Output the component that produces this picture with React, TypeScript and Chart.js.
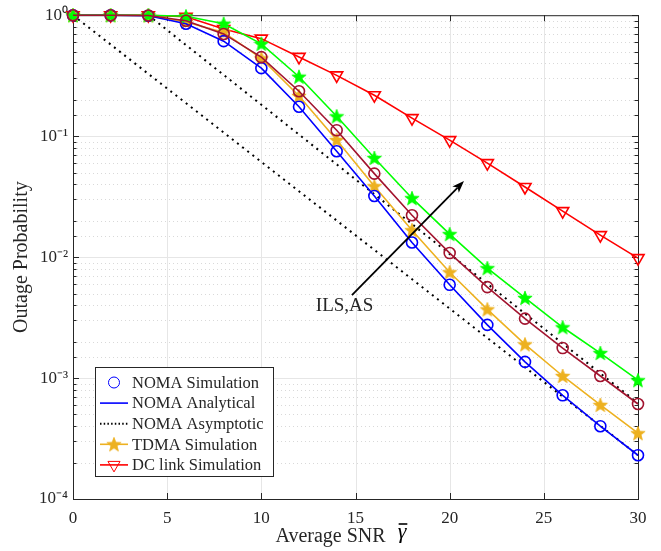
import React, { useEffect, useRef } from 'react';
import { Chart, registerables } from 'chart.js';
import { drawPoint } from 'chart.js/helpers';

Chart.register(...registerables);

// ---------- data ----------
const snr = [0, 2, 4, 6, 8, 10, 12, 14, 16, 18, 20, 22, 24, 26, 28, 30];
const nomaSimulation = [1, 1, 0.99, 0.85, 0.61, 0.365, 0.175, 0.075, 0.032, 0.0132, 0.0059, 0.00275, 0.00136, 0.00072, 0.0004, 0.00023];
const nomaAnalytical = [1, 1, 0.99, 0.85, 0.61, 0.365, 0.175, 0.075, 0.032, 0.0132, 0.0059, 0.00275, 0.00136, 0.00072, 0.0004, 0.00023];
const tdmaSimulation = [1, 1, 0.995, 0.88, 0.72, 0.44, 0.215, 0.093, 0.0386, 0.0167, 0.0075, 0.0037, 0.0019, 0.00104, 0.0006, 0.00035];
const dcLinkSimulation = [1, 1, 1, 0.97, 0.77, 0.64, 0.452, 0.318, 0.218, 0.141, 0.0927, 0.0598, 0.038, 0.024, 0.0152, 0.0098];
const ilsSeriesA = [1, 1, 0.995, 0.9, 0.7, 0.45, 0.235, 0.112, 0.049, 0.0222, 0.0108, 0.00565, 0.0031, 0.00177, 0.00104, 0.00061];
const ilsSeriesB = [1, 1, 1, 0.98, 0.85, 0.58, 0.31, 0.146, 0.066, 0.0307, 0.0155, 0.0081, 0.0046, 0.00263, 0.00161, 0.00096];
const asymptoteA_snr = [0, 30];
const asymptoteA_values = [1, 0.00023];
const asymptoteB_snr = [4, 30];
const asymptoteB_values = [1, 0.00062];

const xTicks = [0, 5, 10, 15, 20, 25, 30];
const legendLabels = ['NOMA Simulation', 'NOMA Analytical', 'NOMA Asymptotic', 'TDMA Simulation', 'DC link Simulation'];
const xTitle = 'Average SNR';
const yTitle = 'Outage Probability';
const annotationText = 'ILS,AS';
// annotation anchors in data units
const arrowTail = { x: 14.81, y: 0.00485 };
const arrowTip = { x: 20.76, y: 0.0425 };
const annotationAnchor = { x: 14.42, y: 0.00358 };

const SERIF = '"Liberation Serif", "Times New Roman", serif';
const TEXT = '#262626';
const BLUE = '#0000ff';
const ORANGE = '#edb120';
const RED = '#ff0000';
const MAROON = '#a2142f';
const GREEN = '#00ff00';

const SUP: Record<string, string> = { '-': '\u207B', '0': '\u2070', '1': '\u00B9', '2': '\u00B2', '3': '\u00B3', '4': '\u2074', '5': '\u2075' };
const toSup = (s: string) => s.split('').map((c) => SUP[c] || c).join('');

function makeStar(color: string, r: number) {
  const c = document.createElement('canvas');
  const s = Math.ceil(r * 2 + 3);
  c.width = s;
  c.height = s;
  const g = c.getContext('2d')!;
  g.beginPath();
  for (let i = 0; i < 10; i++) {
    const rad = i % 2 === 0 ? r : r * 0.42;
    const a = -Math.PI / 2 + (i * Math.PI) / 5;
    const px = s / 2 + rad * Math.cos(a);
    const py = s / 2 + 0.6 + rad * Math.sin(a);
    if (i === 0) g.moveTo(px, py);
    else g.lineTo(px, py);
  }
  g.closePath();
  g.fillStyle = color;
  g.fill();
  g.strokeStyle = color;
  g.lineWidth = 0.8;
  g.stroke();
  return c;
}

const isPow10 = (v: number) => Math.abs(Math.log10(v) - Math.round(Math.log10(v))) < 1e-9;

const decorPlugin = {
  id: 'decor',
  beforeDatasetsDraw(chart: any) {
    const { ctx, chartArea: ca } = chart;
    const xs = chart.scales.x;
    const ys = chart.scales.y;
    ctx.save();
    ctx.lineWidth = 1;
    // y grid
    ys.ticks.forEach((t: any) => {
      const v = t.value;
      if (v <= ys.min || v >= ys.max) return;
      const py = Math.round(ys.getPixelForValue(v)) + 0.5;
      const major = isPow10(v);
      ctx.setLineDash(major ? [] : [1, 3]);
      ctx.strokeStyle = major ? '#e6e6e6' : '#d9d9d9';
      ctx.beginPath();
      ctx.moveTo(ca.left, py);
      ctx.lineTo(ca.right, py);
      ctx.stroke();
    });
    ctx.setLineDash([]);
    xs.ticks.forEach((t: any) => {
      const v = t.value;
      if (v <= xs.min || v >= xs.max) return;
      const px = Math.round(xs.getPixelForValue(v)) + 0.5;
      ctx.strokeStyle = '#e6e6e6';
      ctx.beginPath();
      ctx.moveTo(px, ca.top);
      ctx.lineTo(px, ca.bottom);
      ctx.stroke();
    });
    // box
    ctx.strokeStyle = TEXT;
    ctx.strokeRect(ca.left + 0.5, ca.top + 0.5, ca.right - ca.left, ca.bottom - ca.top);
    // ticks (inward)
    ys.ticks.forEach((t: any) => {
      const v = t.value;
      const py = Math.round(ys.getPixelForValue(v)) + 0.5;
      const len = isPow10(v) ? 6 : 3.5;
      ctx.beginPath();
      ctx.moveTo(ca.left, py);
      ctx.lineTo(ca.left + len, py);
      ctx.moveTo(ca.right, py);
      ctx.lineTo(ca.right - len, py);
      ctx.stroke();
    });
    xs.ticks.forEach((t: any) => {
      const px = Math.round(xs.getPixelForValue(t.value)) + 0.5;
      ctx.beginPath();
      ctx.moveTo(px, ca.bottom);
      ctx.lineTo(px, ca.bottom - 6);
      ctx.moveTo(px, ca.top);
      ctx.lineTo(px, ca.top + 6);
      ctx.stroke();
    });
    ctx.restore();
  },
  afterDraw(chart: any) {
    const { ctx, chartArea: ca } = chart;
    const xs = chart.scales.x;
    const ys = chart.scales.y;
    ctx.save();
    // annotation arrow
    const tx = xs.getPixelForValue(arrowTail.x);
    const ty = ys.getPixelForValue(arrowTail.y);
    const hx = xs.getPixelForValue(arrowTip.x);
    const hy = ys.getPixelForValue(arrowTip.y);
    const ang = Math.atan2(hy - ty, hx - tx);
    const headLen = 12;
    const headW = 4.5;
    const bx = hx - headLen * Math.cos(ang);
    const by = hy - headLen * Math.sin(ang);
    ctx.strokeStyle = '#000';
    ctx.fillStyle = '#000';
    ctx.lineWidth = 1.8;
    ctx.beginPath();
    ctx.moveTo(tx, ty);
    ctx.lineTo(bx + 3 * Math.cos(ang), by + 3 * Math.sin(ang));
    ctx.stroke();
    ctx.beginPath();
    ctx.moveTo(hx, hy);
    ctx.lineTo(bx - headW * Math.sin(ang), by + headW * Math.cos(ang));
    ctx.lineTo(bx + 3 * Math.cos(ang), by + 3 * Math.sin(ang));
    ctx.lineTo(bx + headW * Math.sin(ang), by - headW * Math.cos(ang));
    ctx.closePath();
    ctx.fill();
    ctx.font = `19px ${SERIF}`;
    ctx.fillStyle = TEXT;
    ctx.textAlign = 'center';
    ctx.textBaseline = 'alphabetic';
    ctx.fillText(annotationText, xs.getPixelForValue(annotationAnchor.x), ys.getPixelForValue(annotationAnchor.y));

    // x title with gamma-bar
    ctx.font = `20px ${SERIF}`;
    ctx.textAlign = 'left';
    const cx = (ca.left + ca.right) / 2;
    const startX = cx - 80;
    const baseY = 542;
    ctx.fillText(xTitle, startX, baseY);
    const w = ctx.measureText(xTitle).width;
    const gx = startX + w + 12;
    ctx.font = `italic 22px ${SERIF}`;
    ctx.fillStyle = '#000';
    ctx.fillText('\u03B3', gx, baseY - 4);
    const gw = ctx.measureText('\u03B3').width;
    ctx.strokeStyle = '#000';
    ctx.lineWidth = 1.6;
    ctx.beginPath();
    ctx.moveTo(gx + 1, baseY - 18);
    ctx.lineTo(gx + gw + 1, baseY - 18);
    ctx.stroke();

    // legend
    const lx = ca.left + 22;
    const lw = 178;
    const lh = 109;
    const ly = ca.bottom - 23 - lh;
    ctx.fillStyle = '#fff';
    ctx.fillRect(lx, ly, lw, lh);
    ctx.strokeStyle = TEXT;
    ctx.lineWidth = 1;
    ctx.strokeRect(lx + 0.5, ly + 0.5, lw, lh);
    ctx.font = `16.5px ${SERIF}`;
    ctx.textBaseline = 'middle';
    legendLabels.forEach((label, i) => {
      const ds: any = chart.data.datasets.find((d: any) => d.label === label);
      if (!ds) return;
      const y = ly + 15.5 + i * 20.6;
      const x0 = lx + 5;
      const x1 = lx + 33;
      const xm = (x0 + x1) / 2;
      if (ds.showLine !== false) {
        ctx.save();
        ctx.strokeStyle = ds.borderColor;
        ctx.lineWidth = ds.borderWidth;
        ctx.setLineDash(ds.borderDash ? [1.5, 2.2] : []);
        ctx.beginPath();
        ctx.moveTo(x0, y);
        ctx.lineTo(x1, y);
        ctx.stroke();
        ctx.restore();
      }
      if (ds.pointRadius > 0) {
        ctx.save();
        ctx.strokeStyle = ds.pointBorderColor || ds.borderColor;
        ctx.fillStyle = ds.pointBackgroundColor || 'rgba(0,0,0,0)';
        drawPoint(ctx, { pointStyle: ds.pointStyle, rotation: ds.pointRotation || 0, radius: ds.pointRadius, borderWidth: ds.pointBorderWidth }, xm, y);
        ctx.restore();
      }
      ctx.fillStyle = TEXT;
      ctx.textAlign = 'left';
      ctx.fillText(label, lx + 37, y + 1);
    });
    ctx.restore();
  },
};

export default function App() {
  const ref = useRef<HTMLCanvasElement>(null);
  useEffect(() => {
    const canvas = ref.current!;
    const orangeStar = makeStar(ORANGE, 7.5);
    const greenStar = makeStar(GREEN, 7.5);
    const pts = (xs: number[], ys: number[]) => xs.map((x, i) => ({ x, y: ys[i] }));
    const common = { clip: false as any, tension: 0 };
    const chart = new Chart(canvas, {
      type: 'line',
      data: {
        datasets: [
          {
            ...common,
            label: 'ILS AS series 1',
            data: pts(snr, ilsSeriesA),
            borderColor: MAROON,
            borderWidth: 1.6,
            pointStyle: 'circle',
            pointRadius: 5.5,
            pointBorderWidth: 1.6,
            pointBorderColor: MAROON,
            pointBackgroundColor: 'rgba(0,0,0,0)',
          },
          {
            ...common,
            label: 'ILS AS series 2',
            data: pts(snr, ilsSeriesB),
            borderColor: GREEN,
            borderWidth: 1.6,
            pointStyle: greenStar as any,
            pointRadius: 7,
            pointBorderWidth: 0,
          },
          {
            ...common,
            label: 'NOMA Simulation',
            data: pts(snr, nomaSimulation),
            showLine: false,
            borderColor: BLUE,
            borderWidth: 1.6,
            pointStyle: 'circle',
            pointRadius: 5.5,
            pointBorderWidth: 1.6,
            pointBorderColor: BLUE,
            pointBackgroundColor: 'rgba(0,0,0,0)',
          },
          {
            ...common,
            label: 'NOMA Analytical',
            data: pts(snr, nomaAnalytical),
            borderColor: BLUE,
            borderWidth: 1.6,
            pointRadius: 0,
          },
          {
            ...common,
            label: 'TDMA Simulation',
            data: pts(snr, tdmaSimulation),
            borderColor: ORANGE,
            borderWidth: 1.6,
            pointStyle: orangeStar as any,
            pointRadius: 7,
            pointBorderWidth: 0,
          },
          {
            ...common,
            label: 'DC link Simulation',
            data: pts(snr, dcLinkSimulation),
            borderColor: RED,
            borderWidth: 1.6,
            pointStyle: 'triangle',
            pointRotation: 180,
            pointRadius: 7,
            pointBorderWidth: 1.6,
            pointBorderColor: RED,
            pointBackgroundColor: 'rgba(0,0,0,0)',
          },
          {
            ...common,
            label: 'NOMA Asymptotic',
            data: pts(asymptoteA_snr, asymptoteA_values),
            borderColor: '#000',
            borderWidth: 2,
            borderDash: [2, 4.5],
            pointRadius: 0,
          },
          {
            ...common,
            label: 'NOMA Asymptotic 2',
            data: pts(asymptoteB_snr, asymptoteB_values),
            borderColor: '#000',
            borderWidth: 2,
            borderDash: [2, 4.5],
            pointRadius: 0,
          },
        ] as any,
      },
      options: {
        animation: false,
        responsive: false,
        devicePixelRatio: 1,
        events: [],
        layout: { padding: { left: 0, top: 15, right: 23, bottom: 0 } },
        plugins: { legend: { display: false }, tooltip: { enabled: false } },
        scales: {
          x: {
            type: 'linear',
            min: 0,
            max: 30,
            afterFit: (s: any) => {
              s.height = 52;
            },
            afterBuildTicks: (s: any) => {
              s.ticks = xTicks.map((v) => ({ value: v }));
            },
            grid: { display: true, drawOnChartArea: false, drawTicks: false, color: 'rgba(0,0,0,0)' },
            border: { display: false },
            ticks: {
              color: TEXT,
              font: { family: SERIF, size: 17 },
              padding: 9,
              maxRotation: 0,
              autoSkip: false,
              callback: (v: any) => String(v),
            },
          },
          y: {
            type: 'logarithmic',
            min: 1e-4,
            max: 1,
            afterFit: (s: any) => {
              s.width = 73;
            },
            grid: { display: true, drawOnChartArea: false, drawTicks: false, color: 'rgba(0,0,0,0)' },
            border: { display: false },
            title: {
              display: true,
              text: yTitle,
              color: TEXT,
              font: { family: SERIF, size: 20 },
              padding: { top: 10, bottom: 0 },
            },
            ticks: {
              color: TEXT,
              font: { family: SERIF, size: 17 },
              padding: 5,
              autoSkip: false,
              callback: (v: any) => {
                const n = Number(v);
                if (!isPow10(n)) return '';
                return '10' + toSup(String(Math.round(Math.log10(n))));
              },
            },
          },
        },
      } as any,
      plugins: [decorPlugin],
    });
    return () => chart.destroy();
  }, []);
  return (
    <div style={{ position: 'fixed', left: 0, top: 0, width: 661, height: 551, background: '#fff' }}>
      <canvas ref={ref} width={661} height={551} style={{ width: 661, height: 551, display: 'block' }} />
    </div>
  );
}
